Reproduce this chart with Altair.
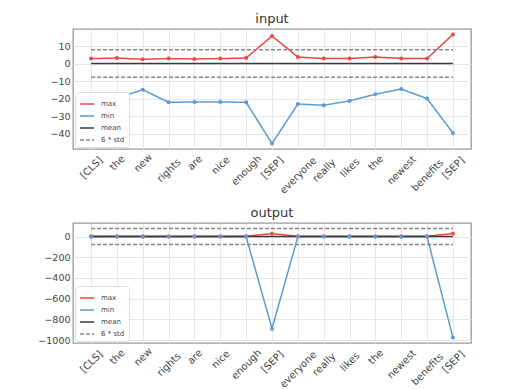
import altair as alt
import pandas as pd

tokens = ["[CLS]", "the", "new", "rights", "are", "nice", "enough", "[SEP]",
          "everyone", "really", "likes", "the", "newest", "benefits", "[SEP]"]

input_max = [2.9, 3.2, 2.5, 2.9, 2.7, 2.9, 3.2, 15.8, 3.8, 2.9, 2.9, 3.8, 3.0, 2.9, 16.7]
input_min = [-20.8, -19.8, -14.9, -22.1, -21.9, -21.9, -22.1, -45.7, -23.1, -23.8,
             -21.3, -17.5, -14.5, -20.0, -39.6]
input_mean = 0.1
input_std6 = 7.9

output_max = [3, 3, 3, 3, 3, 3, 3, 28, 3, 3, 3, 3, 3, 3, 29]
output_min = [-2, -2, -2, -2, -2, -2, -2, -889, -2, -2, -2, -2, -2, -2, -975]
output_mean = 1.0
output_std6 = 77.0

series_names = ["max", "min", "mean", "6 * std"]
series_colors = ["#f04545", "#5a9bd0", "#3a3a3a", "#888888"]

RED = "#f04545"
BLUE = "#5a9bd0"

n = len(tokens)
label_js = "[" + ",".join("'" + t + "'" for t in tokens) + "]"


def legend():
    return alt.Legend(title=None, orient="bottom-left",
                      symbolType="stroke", symbolSize=200,
                      symbolStrokeWidth=1.5, labelFontSize=7,
                      labelColor="#444", labelFont="DejaVu Sans",
                      fillColor="white", strokeColor="#dddddd",
                      cornerRadius=3, padding=4, rowPadding=1,
                      offset=2, labelOffset=6)


def panel(title, vmax, vmin, mean, std6, yticks):
    rows = []
    for i in range(n):
        rows.append(dict(i=i, v=vmax[i], s="max", line="max", c=RED))
        rows.append(dict(i=i, v=vmin[i], s="min", line="min", c=BLUE))
    for i in (0, n - 1):
        rows.append(dict(i=i, v=mean, s="mean", line="mean", c=None))
        rows.append(dict(i=i, v=mean + std6, s="6 * std", line="up", c=None))
        rows.append(dict(i=i, v=mean - std6, s="6 * std", line="lo", c=None))
    df = pd.DataFrame(rows)

    lo = min(min(vmin), mean - std6)
    hi = max(max(vmax), mean + std6)
    m = (hi - lo) * 0.05
    ydom = [lo - m, hi + m]
    xdom = [-0.7, n - 1 + 0.7]

    x = alt.X("i:Q", scale=alt.Scale(domain=xdom, nice=False, zero=False),
              axis=alt.Axis(values=list(range(n)), title=None,
                            labelExpr=label_js + "[datum.value]",
                            labelAngle=315, labelAlign="center", labelBaseline="middle",
                            labelPadding=alt.ExprRef("6 + 2.5*length(" + label_js + "[datum.value])"),
                            labelFontSize=10, labelColor="#444", ticks=False, tickSize=0,
                            domain=False, grid=True, gridColor="#e6e6e6",
                            labelFont="DejaVu Sans", labelOverlap=False, labelBound=False))
    y = alt.Y("v:Q", scale=alt.Scale(domain=ydom, nice=False, zero=False),
              axis=alt.Axis(values=yticks, title=None, ticks=False, tickSize=0, format="d",
                            labelPadding=3, labelFontSize=9.5, labelColor="#444",
                            labelFont="DejaVu Sans", domain=False, grid=True,
                            gridColor="#e6e6e6"))

    lines = alt.Chart(df).mark_line(strokeWidth=1.5).encode(
        x=x, y=y,
        color=alt.Color("s:N", scale=alt.Scale(domain=series_names, range=series_colors),
                        legend=legend()),
        strokeDash=alt.StrokeDash("s:N", scale=alt.Scale(domain=series_names,
                                  range=[[1, 0], [1, 0], [1, 0], [4, 2]]),
                                  legend=legend()),
        detail="line:N",
        order="i:Q",
    )
    pts = alt.Chart(df[df.s.isin(["max", "min"])]).mark_circle(size=16, opacity=1).encode(
        x=x, y=y, color=alt.Color("c:N", scale=None)
    )
    return alt.layer(lines, pts).properties(
        width=398, height=120,
        title=alt.TitleParams(title, fontSize=13, font="DejaVu Sans", fontWeight="normal",
                              color="#333", offset=3)
    )


top = panel("input", input_max, input_min, input_mean, input_std6,
            [-40, -30, -20, -10, 0, 10])
bot = panel("output", output_max, output_min, output_mean, output_std6,
            [-1000, -800, -600, -400, -200, 0])

chart = alt.vconcat(top, bot, spacing=10).resolve_scale(
    color="independent", strokeDash="independent"
).resolve_legend(
    color="independent", strokeDash="independent"
).properties(
    padding={"left": 29, "top": 4, "right": 5, "bottom": 5}
).configure_view(stroke="#999999", strokeWidth=1.3)

chart.save("out.html", embed_options={"renderer": "svg", "actions": False})
